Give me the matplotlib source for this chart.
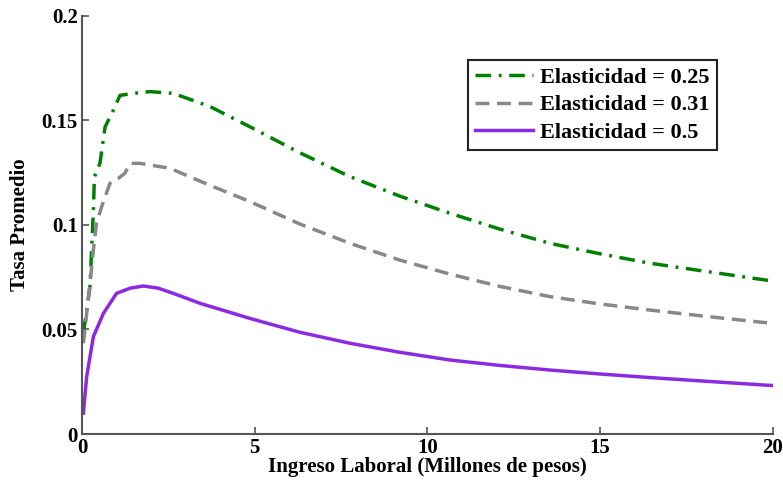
import matplotlib
matplotlib.use("Agg")
import matplotlib.pyplot as plt

# ---- DATA ----
x_025 = [0.04, 0.23, 0.33, 0.36, 0.52, 0.67, 0.91, 1.1, 1.5, 1.97, 2.64, 3.7, 4.86,
         6.3, 7.76, 9.2, 10.65, 12.1, 13.55, 15.0, 16.44, 18.1, 19.77, 20.0]
y_025 = [0.048, 0.0705, 0.107, 0.123, 0.1295, 0.147, 0.155, 0.162, 0.163, 0.1638,
         0.163, 0.1567, 0.147, 0.1346, 0.1231, 0.1138, 0.1056, 0.0980, 0.0912,
         0.0862, 0.0817, 0.0777, 0.0737, 0.0733]

x_031 = [0.04, 0.18, 0.33, 0.42, 0.57, 0.81, 1.05, 1.24, 1.39, 1.68, 2.55, 3.7, 4.86,
         6.3, 7.76, 9.2, 10.65, 12.1, 13.55, 15.0, 16.44, 18.1, 19.77, 20.0]
y_031 = [0.0434, 0.064, 0.088, 0.1008, 0.1088, 0.120, 0.1223, 0.1247, 0.1295, 0.1295,
         0.1271, 0.119, 0.1112, 0.1005, 0.0912, 0.0832, 0.0765, 0.0706, 0.0657,
         0.0622, 0.0593, 0.0562, 0.0533, 0.0530]

x_05 = [0.04, 0.135, 0.33, 0.62, 1.0, 1.4, 1.78, 2.2, 2.64, 3.42, 4.86, 6.3, 7.76,
        9.2, 10.65, 12.1, 13.55, 15.0, 16.44, 18.1, 19.77, 20.0]
y_05 = [0.010, 0.0274, 0.0466, 0.0577, 0.0673, 0.0698, 0.0708, 0.0698, 0.0673,
        0.0625, 0.0553, 0.0487, 0.0434, 0.0391, 0.0354, 0.0328, 0.0306, 0.0287,
        0.0270, 0.0252, 0.0234, 0.0232]

x_ticks = [0, 5, 10, 15, 20]
y_ticks = [0, 0.05, 0.1, 0.15, 0.2]
y_tick_labels = ["0", "0.05", "0.1", "0.15", "0.2"]

# ---- PLOT ----
plt.rcParams["font.family"] = ["Liberation Serif", "DejaVu Serif"]
plt.rcParams["font.weight"] = "bold"

fig = plt.figure(figsize=(7.83, 4.84), dpi=100)
ax = fig.add_axes([0.1047, 0.1033, 0.8825, 0.8637])

ax.plot(x_025, y_025, color="#008000", lw=2.5, linestyle=(0, (4.5, 2.2, 0.8, 2.2)),
        label="Elasticidad = 0.25")
ax.plot(x_031, y_031, color="#888888", lw=2.5, linestyle=(0, (4, 2.2)),
        label="Elasticidad = 0.31")
ax.plot(x_05, y_05, color="#8A2BE2", lw=2.5, label="Elasticidad = 0.5")

ax.set_xlim(0, 20)
ax.set_ylim(0, 0.2)
ax.set_xticks(x_ticks)
ax.set_yticks(y_ticks)
ax.set_yticklabels(y_tick_labels)
ax.tick_params(direction="in", length=5, width=1.2, color="#555555",
               labelsize=15, pad=3)
for lab in ax.get_xticklabels() + ax.get_yticklabels():
    lab.set_fontweight("bold")

ax.spines["top"].set_visible(False)
ax.spines["right"].set_visible(False)
for s in ["left", "bottom"]:
    ax.spines[s].set_color("#555555")
    ax.spines[s].set_linewidth(1.5)

ax.set_xlabel("Ingreso Laboral (Millones de pesos)", fontsize=15,
              fontweight="bold", labelpad=-1)
ax.set_ylabel("Tasa Promedio", fontsize=15, fontweight="bold", labelpad=8)

leg = ax.legend(loc="upper right", bbox_to_anchor=(0.919, 0.895),
                borderaxespad=0, fancybox=False, framealpha=1,
                prop={"size": 16, "weight": "bold"}, handlelength=2.6,
                handletextpad=0.3, labelspacing=0.3, borderpad=0.35)
leg.get_frame().set_edgecolor("#222222")
leg.get_frame().set_linewidth(1.5)

fig.savefig("out.png", dpi=100)
